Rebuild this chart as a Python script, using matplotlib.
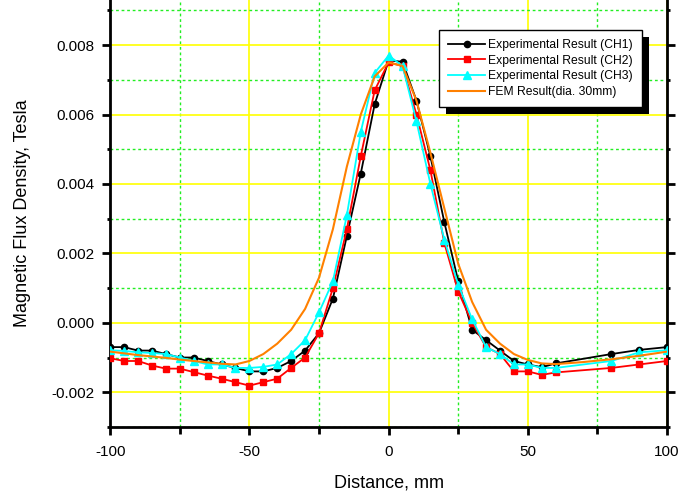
import matplotlib
matplotlib.use("Agg")
import matplotlib.pyplot as plt
import matplotlib.patheffects as pe
from matplotlib.ticker import MultipleLocator, FormatStrFormatter

plt.rcParams['font.family'] = ['Liberation Sans', 'DejaVu Sans']
plt.rcParams['axes.unicode_minus'] = False

# measured points (distance in mm)
x_exp = [-100, -95, -90, -85, -80, -75, -70, -65, -60, -55, -50, -45, -40, -35, -30, -25,
         -20, -15, -10, -5, 0, 5, 10, 15, 20, 25, 30, 35, 40, 45, 50, 55, 60, 80, 90, 100]

ch1 = [-0.0007, -0.0007, -0.0008, -0.0008, -0.0009, -0.0010, -0.0010, -0.0011, -0.0012,
       -0.0013, -0.0014, -0.0014, -0.0013, -0.0011, -0.0008, -0.0003, 0.0007, 0.0025,
       0.0043, 0.0063, 0.00756, 0.00752, 0.0064, 0.0048, 0.0029, 0.0012, -0.0002,
       -0.0005, -0.0008, -0.0011, -0.0012, -0.00128, -0.00117, -0.0009, -0.00078, -0.0007]

ch2 = [-0.00102, -0.0011, -0.0011, -0.00123, -0.00132, -0.00132, -0.00142, -0.00152,
       -0.00161, -0.00171, -0.00181, -0.00171, -0.00161, -0.0013, -0.0010, -0.0003,
       0.0010, 0.0027, 0.0048, 0.0067, 0.0075, 0.0074, 0.0060, 0.0044, 0.0023, 0.0009,
       0.0000, -0.0007, -0.0009, -0.0014, -0.0014, -0.0015, -0.00143, -0.0013, -0.0012,
       -0.0011]

ch3 = [-0.00079, -0.00081, -0.00085, -0.00087, -0.0009, -0.0010, -0.0011, -0.0012,
       -0.0012, -0.0013, -0.0013, -0.00127, -0.0012, -0.0009, -0.0005, 0.0003, 0.0012,
       0.0031, 0.0055, 0.0072, 0.0077, 0.0074, 0.0058, 0.0040, 0.0024, 0.0011, 0.0001,
       -0.0007, -0.0009, -0.0012, -0.0012, -0.0013, -0.0013, -0.0011, -0.00085, -0.00079]

# FEM curve
x_fem = list(range(-100, 101, 5))
fem = [-0.00083, -0.00088, -0.00093, -0.00097, -0.00101, -0.00106, -0.0011, -0.00114,
       -0.00118, -0.0012, -0.0011, -0.0009, -0.0006, -0.0002, 0.0004, 0.0013, 0.0027,
       0.0045, 0.0060, 0.0071, 0.0075, 0.0074, 0.0064, 0.0049, 0.0033, 0.0017, 0.0006,
       -0.0002, -0.0006, -0.0009, -0.00107, -0.00117, -0.00119, -0.00116, -0.00113,
       -0.00109, -0.00105, -0.0010, -0.00095, -0.00089, -0.00083]

fig = plt.figure(figsize=(6.8, 4.93), dpi=100)
ax = fig.add_axes([0.162, 0.134, 0.819, 0.866])

ax.plot(x_exp, ch1, marker='o', linestyle='-', color='black', lw=1.3, ms=4.5,
        label='Experimental Result (CH1)', zorder=3)
ax.plot(x_exp, ch2, marker='s', linestyle='-', color='#ff0000', lw=1.3, ms=4.5,
        label='Experimental Result (CH2)', zorder=3)
ax.plot(x_exp, ch3, marker='^', linestyle='-', color='#00ffff', lw=1.3, ms=6,
        label='Experimental Result (CH3)', zorder=3)
ax.plot(x_fem, fem, linestyle='-', color='#ff8000', lw=1.5,
        label='FEM Result(dia. 30mm)', zorder=4)

ax.set_xlim(-100, 100)
ax.set_ylim(-0.003, 0.0093)
ax.xaxis.set_major_locator(MultipleLocator(50))
ax.xaxis.set_minor_locator(MultipleLocator(25))
ax.yaxis.set_major_locator(MultipleLocator(0.002))
ax.yaxis.set_minor_locator(MultipleLocator(0.001))
ax.yaxis.set_major_formatter(FormatStrFormatter('%.3f'))

ax.grid(which='major', color='#ffff00', linestyle='-', lw=1.2, zorder=0)
ax.grid(which='minor', color='#22ee22', linestyle=(0, (2, 2)), lw=1.0, zorder=0)
ax.set_axisbelow(True)

ax.spines['top'].set_visible(False)
for s in ['left', 'bottom', 'right']:
    ax.spines[s].set_linewidth(2)

ax.tick_params(axis='both', which='major', direction='out', length=6, width=2,
               labelsize=11, right=True)
ax.tick_params(axis='y', which='minor', direction='out', length=2, width=2, right=True)
ax.tick_params(axis='x', which='minor', direction='out', length=5, width=2)
ax.tick_params(axis='x', which='major', pad=7)
ax.tick_params(axis='y', which='major', pad=5)

ax.set_xlabel('Distance, mm', fontsize=13, labelpad=11)
ax.set_ylabel('Magnetic Flux Density, Tesla', fontsize=13, labelpad=15)

leg = ax.legend(loc='upper right', bbox_to_anchor=(0.955, 0.93), borderaxespad=0,
                fontsize=8.7, fancybox=False, edgecolor='black', framealpha=1,
                handlelength=3.0, labelspacing=0.3, borderpad=0.75, handletextpad=0.3)
leg.get_frame().set_linewidth(1.0)
leg.get_frame().set_path_effects([pe.SimplePatchShadow(offset=(5, -5), shadow_rgbFace='black',
                                                       alpha=1), pe.Normal()])

plt.savefig("out.png")
